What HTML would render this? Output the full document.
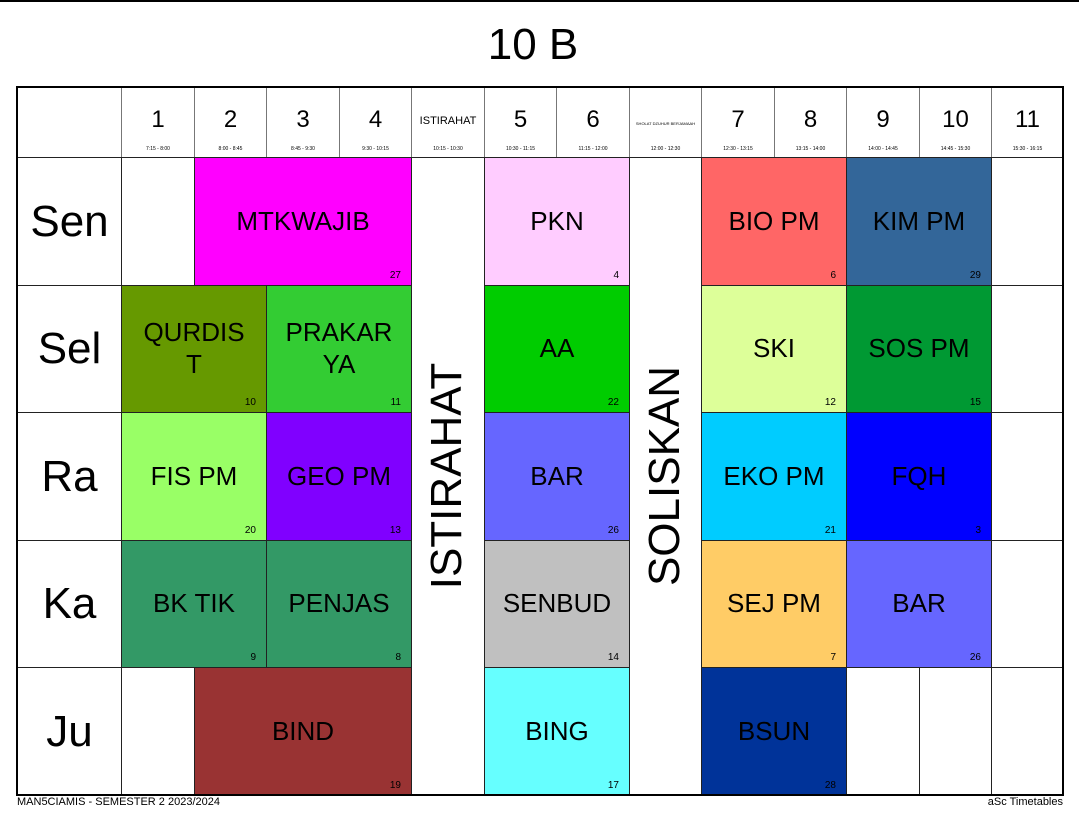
<!DOCTYPE html>
<html><head><meta charset="utf-8"><style>
body{margin:0;width:1079px;height:836px;background:#fff;position:relative;font-family:"Liberation Sans",Arial,sans-serif;overflow:hidden}
.c{position:absolute;box-sizing:border-box;border:1px solid #222;display:flex;align-items:center;justify-content:center;text-align:center;color:#000}
.s{font-size:26px;line-height:32px}
.s>span:first-child{margin-top:-2px}
.n{position:absolute;right:10px;bottom:4px;font-size:10px;line-height:10px}
.d{font-size:44px}
.h{flex-direction:column;border-color:#777}
.h b{font-weight:normal;font-size:24px;margin-top:12px}
.h i{font-style:normal;font-size:5px;margin-top:12px}
.v{position:absolute;font-size:44px;transform:translate(-50%,-50%) rotate(-90deg);white-space:nowrap}
</style></head><body>
<div style="position:absolute;left:0;top:0;width:1079px;height:2px;background:#000"></div>
<div style="position:absolute;left:0;width:1066px;top:19px;text-align:center;font-size:44px;line-height:52px">10 B</div>
<div id="g"></div>
<div style="position:absolute;left:17px;top:796px;font-size:11px">MAN5CIAMIS - SEMESTER 2 2023/2024</div>
<div style="position:absolute;right:16px;top:796px;font-size:11px">aSc Timetables</div>
<script>
const X=[17,121,194,266,339,411,484,556,629,701,774,846,919,991,1063];
const Y=[87,157,285,412,540,667,795];
let h='';
function cell(c1,c2,r1,r2,bg,inner,cls){h+=`<div class="c ${cls||''}" style="left:${X[c1]}px;width:${X[c2+1]-X[c1]+1}px;top:${Y[r1]}px;height:${Y[r2+1]-Y[r1]+1}px;background:${bg}">${inner}</div>`;}
cell(0,0,0,0,'#fff','');
const hd=[['1','7:15 - 8:00'],['2','8:00 - 8:45'],['3','8:45 - 9:30'],['4','9:30 - 10:15'],['ISTIRAHAT','10:15 - 10:30'],['5','10:30 - 11:15'],['6','11:15 - 12:00'],['SHOLAT DZUHUR BERJAMAAH','12:00 - 12:30'],['7','12:30 - 13:15'],['8','13:15 - 14:00'],['9','14:00 - 14:45'],['10','14:45 - 15:30'],['11','15:30 - 16:15']];
hd.forEach((t,i)=>{let b=t[0];let st=b.length>3?(b.length>10?'style="font-size:4px;margin-top:27px;margin-bottom:8px"':'style="font-size:11px;margin-top:22px;margin-bottom:7px"'):'';cell(i+1,i+1,0,0,'#fff',`<b ${st}>${b}</b><i>${t[1]}</i>`,'h');});
['Sen','Sel','Ra','Ka','Ju'].forEach((d,i)=>cell(0,0,i+1,i+1,'#fff',d,'d'));
[[1,1],[13,1],[13,2],[13,3],[13,4],[1,5],[11,5],[12,5],[13,5]].forEach(e=>cell(e[0],e[0],e[1],e[1],'#fff',''));
cell(5,5,1,5,'#fff','');cell(8,8,1,5,'#fff','');
const L=[
[2,4,1,'#ff00ff','MTKWAJIB',27],[6,7,1,'#ffccff','PKN',4],[9,10,1,'#ff6666','BIO PM',6],[11,12,1,'#336699','KIM PM',29],
[1,2,2,'#669900','QURDIS<br>T',10],[3,4,2,'#33cc33','PRAKAR<br>YA',11],[6,7,2,'#00cc00','AA',22],[9,10,2,'#ddff99','SKI',12],[11,12,2,'#009933','SOS PM',15],
[1,2,3,'#99ff66','FIS PM',20],[3,4,3,'#8000ff','GEO PM',13],[6,7,3,'#6666ff','BAR',26],[9,10,3,'#00ccff','EKO PM',21],[11,12,3,'#0000ff','FQH',3],
[1,2,4,'#339966','BK TIK',9],[3,4,4,'#339966','PENJAS',8],[6,7,4,'#c0c0c0','SENBUD',14],[9,10,4,'#ffcc66','SEJ PM',7],[11,12,4,'#6666ff','BAR',26],
[2,4,5,'#993333','BIND',19],[6,7,5,'#66ffff','BING',17],[9,10,5,'#003399','BSUN',28]];
L.forEach(l=>cell(l[0],l[1],l[2],l[2],l[3],`<span>${l[4]}</span><span class="n">${l[5]}</span>`,'s'));
h+=`<div class="v" style="left:447px;top:476px">ISTIRAHAT</div><div class="v" style="left:665px;top:476px">SOLISKAN</div>`;
h+=`<div style="position:absolute;left:16px;top:86px;width:1048px;height:710px;box-sizing:border-box;border:2px solid #000"></div>`;
document.getElementById('g').innerHTML=h;
</script>
</body></html>
